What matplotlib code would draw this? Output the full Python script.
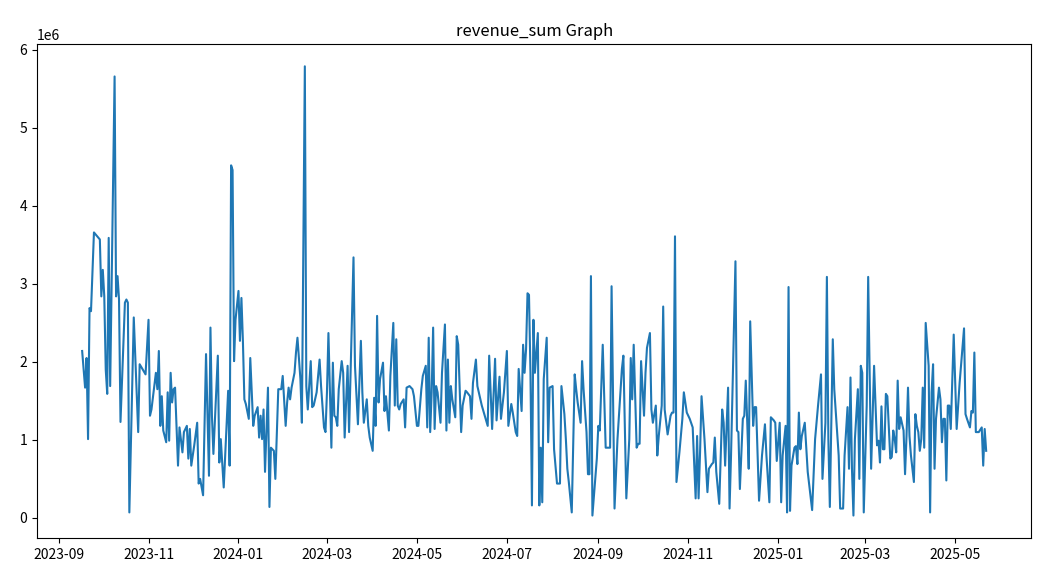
import numpy as np
import pandas as pd
import matplotlib
matplotlib.use("Agg")
import matplotlib.pyplot as plt

plt.rcParams['font.family'] = ['Noto Sans CJK KR', 'DejaVu Sans']

# 날짜 (시작일 기준 경과일) / 일별 매출 (단위: 백만)
start_date = '2023-09-17'
day_offset = [
    0, 2, 3, 4, 5, 6, 8, 12, 13, 14, 15, 16, 17, 18, 19, 22, 23, 24, 25, 26,
    29, 30, 31, 32, 35, 38, 39, 43, 45, 46, 47, 50, 51, 52, 53, 54, 55, 57, 58, 59,
    60, 61, 62, 63, 65, 66, 68, 69, 71, 72, 73, 74, 76, 78, 79, 80, 82, 84, 86, 87,
    88, 89, 92, 93, 94, 96, 99, 100, 101, 102, 103, 104, 106, 107, 108, 109, 110, 111, 113, 114,
    116, 117, 119, 120, 121, 122, 123, 124, 126, 127, 128, 130, 131, 133, 135, 136, 138, 139, 140, 141,
    142, 144, 145, 146, 148, 149, 151, 152, 153, 155, 156, 157, 159, 161, 162, 164, 165, 166, 167, 169,
    170, 171, 172, 173, 174, 176, 177, 178, 180, 181, 184, 185, 187, 189, 190, 191, 193, 194, 195, 197,
    198, 199, 200, 201, 202, 204, 205, 206, 208, 209, 211, 212, 213, 214, 215, 216, 218, 219, 220, 222,
    224, 225, 227, 228, 230, 231, 233, 234, 235, 236, 237, 238, 239, 240, 241, 243, 244, 246, 247, 248,
    249, 250, 251, 253, 254, 255, 257, 258, 260, 261, 263, 264, 265, 267, 268, 271, 273, 275, 276, 278,
    280, 281, 283, 284, 285, 286, 288, 289, 291, 292, 294, 295, 296, 298, 299, 300, 301, 302, 303, 304,
    305, 306, 307, 309, 310, 311, 312, 313, 315, 316, 317, 319, 320, 322, 324, 325, 327, 328, 329, 330,
    332, 334, 335, 336, 338, 339, 340, 342, 343, 344, 345, 346, 349, 350, 351, 353, 355, 357, 358, 359,
    361, 363, 366, 367, 369, 371, 372, 373, 374, 376, 377, 378, 379, 381, 382, 383, 385, 386, 387, 389,
    390, 391, 393, 394, 395, 397, 399, 400, 401, 402, 403, 405, 407, 408, 410, 412, 414, 416, 417, 418,
    419, 420, 422, 424, 425, 427, 428, 429, 430, 432, 434, 435, 436, 438, 439, 440, 443, 444, 445, 446,
    448, 449, 450, 451, 452, 453, 454, 455, 456, 457, 459, 461, 463, 464, 466, 467, 469, 470, 471, 473,
    474, 475, 477, 478, 479, 480, 481, 483, 484, 485, 486, 487, 488, 490, 492, 495, 497, 499, 501, 502,
    504, 505, 506, 507, 509, 510, 513, 514, 516, 517, 519, 520, 521, 522, 523, 524, 526, 527, 528, 529,
    530, 532, 533, 534, 535, 537, 538, 539, 540, 541, 542, 543, 544, 545, 546, 548, 549, 550, 551, 552,
    553, 554, 555, 557, 558, 559, 560, 561, 562, 564, 565, 566, 567, 568, 569, 570, 571, 572, 574, 575,
    576, 577, 578, 579, 581, 582, 583, 584, 585, 586, 587, 588, 589, 591, 593, 595, 598, 599, 600, 602,
    603, 604, 605, 606, 607, 608, 610, 611, 612, 613,
]
revenue_m = [
    2.14, 1.67, 2.05, 1.01, 2.69, 2.65, 3.66, 3.57, 2.84, 3.18, 2.84, 1.90, 1.59, 3.59, 1.69, 5.66, 2.84, 3.10, 2.80, 1.23,
    2.76, 2.80, 2.76, 0.07, 2.57, 1.10, 1.97, 1.84, 2.54, 1.31, 1.39, 1.86, 1.65, 2.14, 1.18, 1.56, 1.12, 0.97, 1.61, 0.99,
    1.86, 1.48, 1.65, 1.67, 0.67, 1.16, 0.84, 1.10, 1.18, 0.76, 1.14, 0.67, 0.93, 1.22, 0.44, 0.50, 0.29, 2.10, 0.54, 2.44,
    1.31, 0.82, 2.08, 0.71, 1.01, 0.39, 1.63, 0.67, 4.52, 4.46, 2.01, 2.54, 2.91, 2.27, 2.82, 2.27, 1.52, 1.46, 1.27, 2.05,
    1.18, 1.31, 1.42, 1.03, 1.31, 1.01, 1.39, 0.59, 1.67, 0.14, 0.90, 0.86, 0.50, 1.65, 1.65, 1.82, 1.18, 1.48, 1.67, 1.52,
    1.67, 1.86, 2.12, 2.31, 1.78, 1.22, 5.79, 1.69, 1.39, 2.01, 1.42, 1.44, 1.61, 2.03, 1.69, 1.16, 1.10, 1.61, 2.37, 0.90,
    1.99, 1.31, 1.29, 1.18, 1.65, 2.01, 1.86, 1.03, 1.95, 1.10, 3.34, 1.95, 1.20, 2.27, 1.61, 1.22, 1.52, 1.18, 1.03, 0.86,
    1.54, 1.18, 2.59, 1.48, 1.78, 1.99, 1.37, 1.56, 1.12, 1.82, 2.50, 1.44, 2.29, 1.44, 1.39, 1.46, 1.52, 1.16, 1.67, 1.69,
    1.65, 1.56, 1.18, 1.18, 1.65, 1.82, 1.95, 1.16, 2.31, 1.10, 1.61, 2.44, 1.14, 1.69, 1.61, 1.22, 1.86, 2.48, 1.12, 2.03,
    1.22, 1.69, 1.52, 1.29, 2.33, 2.22, 1.10, 1.44, 1.63, 1.61, 1.56, 1.27, 1.73, 2.03, 1.69, 1.44, 1.31, 1.18, 2.08, 1.14,
    2.04, 1.25, 1.81, 1.27, 1.44, 1.61, 2.14, 1.18, 1.46, 1.35, 1.10, 1.05, 1.91, 1.37, 2.22, 1.86, 2.16, 2.88, 2.86, 1.86,
    0.16, 2.54, 1.86, 2.37, 0.16, 0.90, 0.20, 1.78, 2.31, 0.97, 1.67, 1.69, 0.88, 0.44, 0.44, 1.69, 1.33, 1.01, 0.63, 0.46,
    0.07, 1.84, 1.65, 1.48, 1.22, 2.01, 1.65, 1.10, 0.56, 0.56, 3.10, 0.03, 0.76, 1.18, 1.12, 2.22, 0.90, 0.90, 0.90, 2.97,
    0.12, 1.01, 1.91, 2.08, 0.25, 1.01, 2.05, 1.52, 2.22, 0.90, 0.95, 0.95, 2.01, 1.31, 1.86, 2.18, 2.37, 1.39, 1.22, 1.44,
    0.80, 1.05, 1.44, 2.71, 1.39, 1.07, 1.31, 1.35, 1.35, 3.61, 0.46, 0.84, 1.27, 1.61, 1.35, 1.27, 1.16, 0.25, 1.05, 0.25,
    0.84, 1.56, 1.01, 0.33, 0.63, 0.69, 0.71, 1.03, 0.59, 0.18, 1.39, 1.22, 0.67, 1.67, 0.12, 0.80, 3.29, 1.12, 1.10, 0.37,
    1.27, 1.31, 1.76, 1.22, 0.63, 2.52, 1.86, 1.18, 1.42, 1.42, 0.22, 0.80, 1.20, 0.80, 0.20, 1.29, 1.25, 1.22, 0.73, 1.22,
    0.20, 0.80, 1.18, 0.07, 2.96, 0.09, 0.67, 0.90, 0.92, 0.69, 1.35, 0.88, 1.05, 1.22, 0.59, 0.10, 1.01, 1.44, 1.84, 0.50,
    1.22, 3.09, 1.01, 0.14, 2.29, 1.65, 0.80, 0.12, 0.12, 0.80, 1.42, 0.63, 1.80, 0.63, 0.03, 1.01, 1.65, 0.50, 1.95, 1.86,
    0.07, 1.44, 3.09, 1.86, 0.63, 1.95, 1.44, 0.93, 0.99, 0.71, 1.43, 0.88, 0.88, 1.59, 1.56, 0.76, 0.78, 1.12, 1.01, 0.84,
    1.76, 1.14, 1.29, 1.12, 0.56, 1.05, 1.67, 1.05, 0.80, 0.46, 1.33, 1.18, 1.10, 0.86, 1.01, 1.67, 0.90, 2.50, 1.95, 0.07,
    1.61, 1.97, 0.63, 1.27, 1.67, 1.52, 0.97, 1.27, 1.27, 0.48, 1.44, 1.44, 1.14, 2.35, 1.14, 1.73, 2.43, 1.33, 1.27, 1.16,
    1.37, 1.35, 2.12, 1.10, 1.10, 1.10, 1.16, 0.67, 1.14, 0.86,
]

dates = pd.Timestamp(start_date) + pd.to_timedelta(day_offset, unit='D')
revenue_sum = np.array(revenue_m) * 1e6

fig = plt.figure(figsize=(10.38, 5.8), dpi=100)
ax = fig.add_axes([0.0356, 0.0724, 0.958, 0.852])
ax.plot(dates, revenue_sum)
ax.set_title('revenue_sum Graph')

fig.savefig('out.png', dpi=100)
